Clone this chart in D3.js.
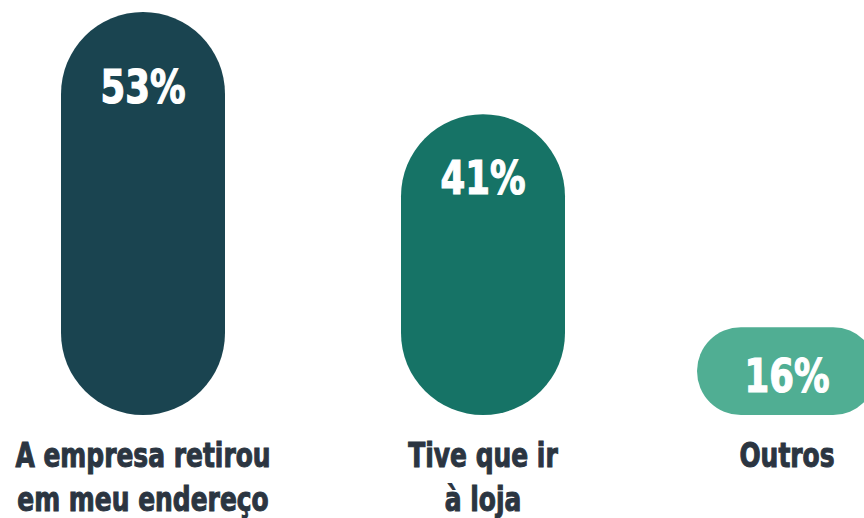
<!DOCTYPE html>
<meta charset="utf-8">
<style>
  body { margin: 0; background: #fff; }
  svg { display: block; }
  text { font-family: "DejaVu Sans Condensed", "DejaVu Sans", sans-serif; font-weight: bold; }
</style>
<body>
<div id="chart"></div>
<script src="https://d3js.org/d3.v7.min.js"></script>
<script>
const categories = ["A empresa retirou\nem meu endereço", "Tive que ir\nà loja", "Outros"];
const values = [53, 41, 16];
const colors = ["#1a4450", "#167366", "#50ae93"];

const width = 864, height = 518;
const squeeze = 0.84; // the original font is narrower than anything installed

// bar centres and widths (uneven spacing)
const x = d3.scaleOrdinal().domain(categories).range([143, 483, 787]);
const barW = d3.scaleOrdinal().domain(categories).range([164, 164, 180]);

// the bars don't start at zero in the original
const y = d3.scaleLinear().domain([5.7, 53]).range([415, 12]);

const svg = d3.select("#chart").append("svg")
  .attr("width", width)
  .attr("height", height);

const bar = svg.selectAll("g.bar")
  .data(categories.map((c, i) => ({ cat: c, value: values[i], color: colors[i] })))
  .join("g")
  .attr("class", "bar");

bar.append("rect")
  .attr("x", d => x(d.cat) - barW(d.cat) / 2)
  .attr("y", d => y(d.value))
  .attr("width", d => barW(d.cat))
  .attr("height", d => y.range()[0] - y(d.value))
  .attr("rx", d => Math.min(barW(d.cat), y.range()[0] - y(d.value)) / 2)
  .attr("fill", d => d.color);

// value label sits a bit lower in taller bars
bar.append("text")
  .attr("transform", d => `translate(${x(d.cat)},0) scale(${squeeze},1)`)
  .attr("y", d => {
    const h = y.range()[0] - y(d.value);
    return y(d.value) + 65 + 26 * Math.pow(Math.max(0, h - 88) / 315, 1.5);
  })
  .attr("text-anchor", "middle")
  .attr("fill", "#fff")
  .attr("stroke", "#fff")
  .attr("stroke-width", 1.2)
  .style("font-size", "47px")
  .text(d => d.value + "%");

const label = bar.append("text")
  .attr("transform", d => `translate(${x(d.cat)},0) scale(${squeeze},1)`)
  .attr("y", 467)
  .attr("text-anchor", "middle")
  .attr("fill", "#2b3541")
  .attr("stroke", "#2b3541")
  .attr("stroke-width", 1)
  .style("font-size", "33px");

label.selectAll("tspan")
  .data(d => d.cat.split("\n"))
  .join("tspan")
  .attr("x", 0)
  .attr("dy", (d, i) => i === 0 ? 0 : 44)
  .text(d => d);
</script>
</body>
